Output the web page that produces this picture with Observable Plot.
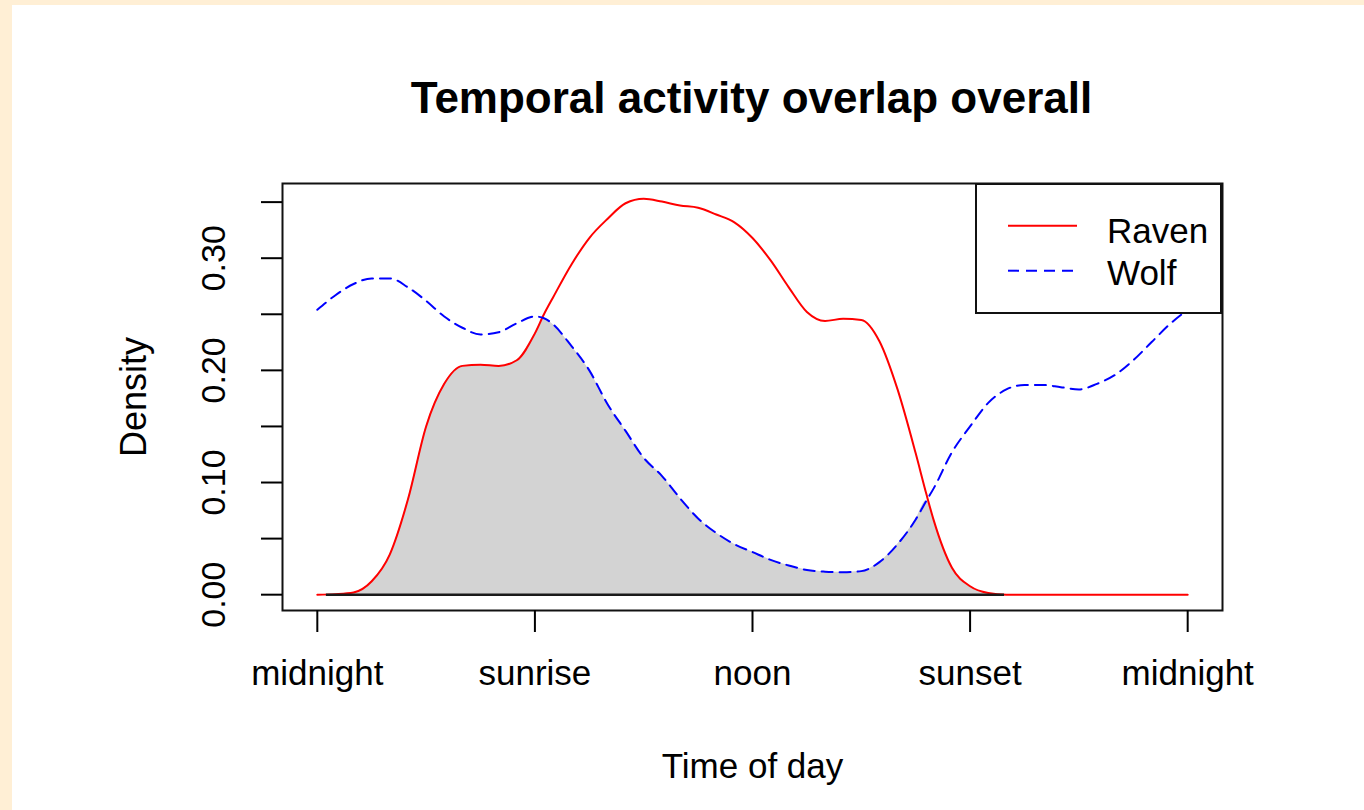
<!DOCTYPE html>
<html><head><meta charset="utf-8">
<script src="https://cdn.jsdelivr.net/npm/d3@7"></script>
<script src="https://cdn.jsdelivr.net/npm/@observablehq/plot@0.6"></script>
<style>
html,body{margin:0;padding:0;}
body{width:1364px;height:810px;background:#FFEFD5;position:relative;overflow:hidden;font-family:"Liberation Sans",Arial,sans-serif;}
#panel{position:absolute;left:12px;top:5px;width:1352px;height:805px;background:#fff;}
#title{position:absolute;left:239.5px;width:1000px;top:70.75px;text-align:center;font-weight:bold;font-size:44px;line-height:44px;color:#000;white-space:nowrap;}
#chart{position:absolute;left:0;top:145px;}
#legend{position:absolute;left:963px;top:178px;width:247px;height:131px;}
</style></head>
<body>
<div id="panel">
  <div id="title">Temporal activity overlap overall</div>
  <div id="chart"></div>
  <div id="legend"></div>
</div>
<script>
// ---- data ----
const hours = [0,0.5,1,1.5,2,2.5,3,3.5,4,4.5,5,5.5,6,6.25,6.5,7,7.5,8,8.5,9,9.5,10,10.5,11,11.5,12,12.5,13,13.5,14,14.5,15,15.5,16,16.5,16.8,17,17.5,18,18.5,19,19.5,20,20.5,21,21.5,22,22.5,23,23.5,24];
const raven = [0,0.0005,0.002,0.012,0.036,0.085,0.150,0.188,0.204,0.205,0.204,0.209,0.233,0.250,0.265,0.294,0.318,0.335,0.349,0.353,0.3505,0.347,0.345,0.339,0.332,0.318,0.298,0.274,0.252,0.244,0.246,0.245,0.226,0.183,0.126,0.089,0.066,0.024,0.0075,0.0015,0,0,0,0,0,0,0,0,0,0,0];
const wolf = [0.254,0.267,0.277,0.282,0.282,0.274,0.262,0.248,0.238,0.232,0.234,0.242,0.248,0.2465,0.241,0.222,0.200,0.170,0.146,0.122,0.106,0.086,0.068,0.055,0.045,0.038,0.031,0.026,0.022,0.0205,0.020,0.021,0.029,0.045,0.067,0.084,0.095,0.127,0.150,0.171,0.183,0.187,0.187,0.185,0.183,0.188,0.196,0.209,0.225,0.241,0.254];
const overlapRange = [0.25, 18.95];
const xTicks = [0, 6, 12, 18, 24];
const xTickLabels = ["midnight", "sunrise", "noon", "sunset", "midnight"];
const yTicks = [0, 0.05, 0.1, 0.15, 0.2, 0.25, 0.3, 0.35];
const yLabelTicks = [0, 0.1, 0.2, 0.3];
const seriesNames = ["Raven", "Wolf"];
const seriesColors = ["#ff0000", "#0000ff"];
const seriesDash = ["none", "11,7"];

const rows = hours.map((h, i) => ({hour: h, raven: raven[i], wolf: wolf[i], overlap: Math.min(raven[i], wolf[i])}));

const chart = Plot.plot({
  width: 1352, height: 660,
  marginLeft: 270, marginRight: 142, marginTop: 33, marginBottom: 200,
  x: {domain: [-0.96, 24.96]},
  y: {domain: [-0.0141, 0.3666]},
  style: {fontFamily: '"Liberation Sans", Arial, sans-serif', background: "transparent", color: "#000", overflow: "visible"},
  marks: [
    Plot.areaY(rows, {x: "hour", y: "overlap", fill: "#d3d3d3", curve: "monotone-x"}),
    Plot.line(rows, {x: "hour", y: "raven", stroke: seriesColors[0], strokeWidth: 2, curve: "monotone-x"}),
    Plot.line(rows, {x: "hour", y: "wolf", stroke: seriesColors[1], strokeWidth: 2, strokeDasharray: seriesDash[1], curve: "monotone-x"}),
    Plot.ruleY([0], {x1: overlapRange[0], x2: overlapRange[1], stroke: "#1a1a1a", strokeWidth: 2.5}),
    Plot.frame({stroke: "#111", strokeWidth: 2}),
    Plot.axisX(xTicks, {tickSize: 22, tickPadding: 28, tickFormat: d => xTickLabels[xTicks.indexOf(d)], fontSize: 35, label: null, strokeWidth: 2}),
    Plot.axisY(yTicks, {tickSize: 21, tickPadding: 37, tickRotate: -90, tickFormat: d => yLabelTicks.includes(d) ? d.toFixed(2) : "", fontSize: 34, label: null, strokeWidth: 2}),
    Plot.text(["Density"], {text: d => d, frameAnchor: "left", textAnchor: "middle", rotate: -90, lineAnchor: "bottom", dx: -137, fontSize: 36}),
    Plot.text(["Time of day"], {text: d => d, frameAnchor: "bottom", textAnchor: "middle", lineAnchor: "bottom", dy: 167, fontSize: 35})
  ]
});
document.getElementById("chart").appendChild(chart);

// legend
const ns = "http://www.w3.org/2000/svg";
const lg = document.createElementNS(ns, "svg");
lg.setAttribute("width", 247); lg.setAttribute("height", 131);
const box = document.createElementNS(ns, "rect");
box.setAttribute("x", 1); box.setAttribute("y", 1); box.setAttribute("width", 245); box.setAttribute("height", 129);
box.setAttribute("fill", "#fff"); box.setAttribute("stroke", "#111"); box.setAttribute("stroke-width", 2);
lg.appendChild(box);
seriesNames.forEach((name, i) => {
  const ly = 42.7 + i * 45;
  const ln = document.createElementNS(ns, "line");
  ln.setAttribute("x1", 33); ln.setAttribute("x2", 102); ln.setAttribute("y1", ly); ln.setAttribute("y2", ly);
  ln.setAttribute("stroke", seriesColors[i]); ln.setAttribute("stroke-width", 2);
  if (seriesDash[i] !== "none") ln.setAttribute("stroke-dasharray", seriesDash[i]);
  lg.appendChild(ln);
  const tx = document.createElementNS(ns, "text");
  tx.setAttribute("x", 132); tx.setAttribute("y", 60 + i * 42);
  tx.setAttribute("font-size", 35); tx.setAttribute("font-family", '"Liberation Sans", Arial, sans-serif');
  tx.setAttribute("fill", "#000");
  tx.textContent = name;
  lg.appendChild(tx);
});
document.getElementById("legend").appendChild(lg);
</script>
</body></html>
